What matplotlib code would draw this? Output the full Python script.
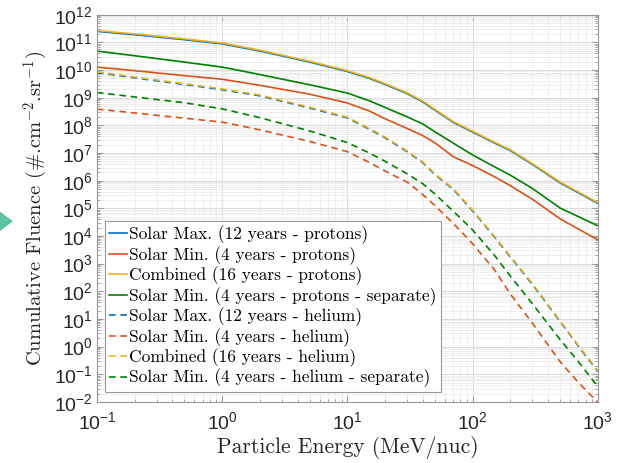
import numpy as np
import matplotlib
matplotlib.use("Agg")
import matplotlib.pyplot as plt
from matplotlib.ticker import LogLocator, NullFormatter
from matplotlib.patches import Polygon

plt.rcParams['font.family'] = ['Liberation Sans', 'DejaVu Sans']
plt.rcParams['mathtext.fontset'] = 'custom'
plt.rcParams['mathtext.rm'] = 'Liberation Sans'
plt.rcParams['mathtext.it'] = 'Liberation Sans:italic'
plt.rcParams['mathtext.bf'] = 'Liberation Sans:bold'

# particle energy (MeV/nuc) and log10 of cumulative fluence
energy = [0.1, 0.2, 0.5, 1, 2, 5, 10, 15, 20, 30, 40, 50, 70, 100, 150, 200, 300, 500, 700, 1000]

max_protons = [11.40, 11.28, 11.10, 10.95, 10.69, 10.29, 9.95, 9.70, 9.48, 9.15, 8.85, 8.55, 8.11, 7.76, 7.36, 7.09, 6.59, 5.92, 5.56, 5.18]
min_protons = [10.11, 9.98, 9.80, 9.67, 9.45, 9.13, 8.81, 8.52, 8.24, 7.89, 7.63, 7.37, 6.87, 6.55, 6.14, 5.82, 5.33, 4.62, 4.25, 3.86]
comb_protons = [11.43, 11.31, 11.13, 10.98, 10.72, 10.32, 9.98, 9.73, 9.51, 9.18, 8.88, 8.58, 8.14, 7.79, 7.39, 7.12, 6.62, 5.95, 5.59, 5.21]
sep_protons = [10.69, 10.52, 10.29, 10.11, 9.84, 9.47, 9.17, 8.89, 8.65, 8.31, 8.05, 7.77, 7.36, 6.93, 6.50, 6.20, 5.72, 5.01, 4.70, 4.37]

max_helium = [9.91, 9.72, 9.48, 9.29, 9.07, 8.63, 8.27, 7.86, 7.55, 7.05, 6.65, 6.22, 5.69, 4.91, 3.95, 3.24, 2.25, 0.90, 0.01, -0.91]
min_helium = [8.59, 8.45, 8.26, 8.12, 7.84, 7.42, 7.05, 6.66, 6.35, 5.95, 5.50, 5.10, 4.46, 3.72, 2.77, 1.90, 0.85, -0.55, -1.30, -2.02]
comb_helium = [9.94, 9.75, 9.51, 9.32, 9.10, 8.66, 8.30, 7.89, 7.58, 7.08, 6.68, 6.25, 5.72, 4.94, 3.98, 3.27, 2.28, 0.93, 0.04, -0.88]
sep_helium = [9.19, 9.03, 8.82, 8.60, 8.28, 7.80, 7.38, 7.00, 6.70, 6.25, 5.89, 5.52, 4.90, 4.22, 3.29, 2.55, 1.55, 0.25, -0.55, -1.45]

labels = [
    "Solar Max. (12 years - protons)",
    "Solar Min. (4 years - protons)",
    "Combined (16 years - protons)",
    "Solar Min. (4 years - protons - separate)",
    "Solar Max. (12 years - helium)",
    "Solar Min. (4 years - helium)",
    "Combined (16 years - helium)",
    "Solar Min. (4 years - helium - separate)",
]
series = [max_protons, min_protons, comb_protons, sep_protons,
          max_helium, min_helium, comb_helium, sep_helium]
colors = ['#0072BD', '#D95319', '#EDB120', '#008000'] * 2
styles = ['-'] * 4 + [(0, (4, 2.8))] * 4

fig = plt.figure(figsize=(6.17, 4.63), dpi=100)
ax = fig.add_axes([0.157, 0.132, 0.812, 0.836])

for vals, lab, c, ls in zip(series, labels, colors, styles):
    ax.plot(energy, 10.0 ** np.array(vals), color=c, linestyle=ls, lw=1.2, label=lab)

ax.set_xscale('log')
ax.set_yscale('log')
ax.set_xlim(0.1, 1000)
ax.set_ylim(1e-2, 1e12)
ax.set_yticks([10.0 ** k for k in range(-2, 13)])
ax.set_xticks([10.0 ** k for k in range(-1, 4)])
ax.yaxis.set_minor_locator(LogLocator(base=10, subs=np.arange(2, 10), numticks=100))
ax.xaxis.set_minor_locator(LogLocator(base=10, subs=np.arange(2, 10), numticks=100))
ax.yaxis.set_minor_formatter(NullFormatter())
ax.xaxis.set_minor_formatter(NullFormatter())

ax.grid(True, which='major', color='#dcdcdc', lw=0.8)
ax.grid(True, which='minor', color='#ececec', lw=0.6)
ax.set_axisbelow(True)
ax.tick_params(which='both', direction='in', top=True, right=True, colors='#999999',
               labelcolor='#262626', labelsize=14)
ax.tick_params(which='major', length=4)
ax.tick_params(which='minor', length=2)
ax.tick_params(axis='x', pad=7)
ax.tick_params(axis='y', pad=3)
for sp in ax.spines.values():
    sp.set_color('#999999')

ax.set_xlabel("Particle Energy (MeV/nuc)", family='cmr10', fontsize=15.5, labelpad=2,
              color='#262626')
ax.set_ylabel(r"Cumulative Fluence (#.cm$^{-2}$.sr$^{-1}$)", family='cmr10',
              math_fontfamily='cm', fontsize=14.8, labelpad=3, color='#262626')

leg = ax.legend(loc='lower left', bbox_to_anchor=(0.016, 0.026), borderaxespad=0,
                prop={'family': 'cmr10', 'size': 12.5}, handlelength=1.05,
                handletextpad=0.1, labelspacing=0.1, borderpad=0.25,
                fancybox=False, framealpha=1, edgecolor='#999999')
leg.get_frame().set_linewidth(0.8)

# teal marker on the left edge of the slide
fig.patches.append(Polygon([[0.0, 0.543], [0.021, 0.522], [0.0, 0.501]], closed=True,
                           transform=fig.transFigure, facecolor='#5cc3a2', edgecolor='none'))

fig.savefig('out.png', dpi=100)
